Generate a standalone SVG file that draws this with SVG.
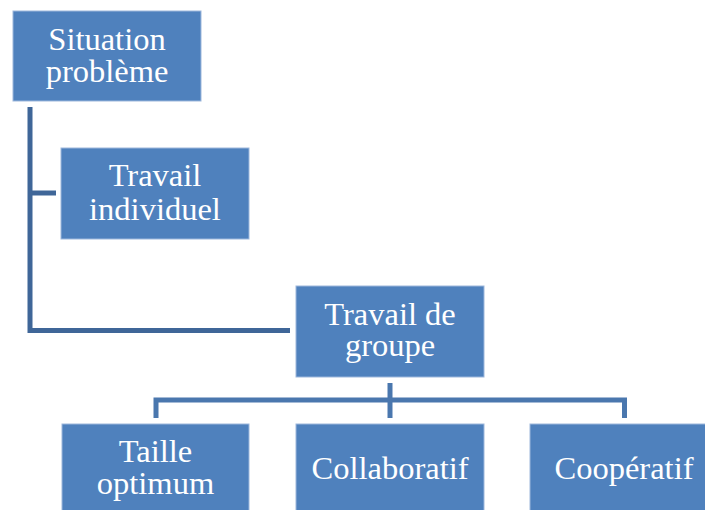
<svg xmlns="http://www.w3.org/2000/svg" width="705" height="510" viewBox="0 0 705 510">
  <style>
    .box { fill: #4F81BD; stroke: #9DB7DC; stroke-width: 1; }
    .lbl { fill: #FFFFFF; font-family: "Liberation Serif", "Times New Roman", serif; font-size: 32.5px; text-anchor: middle; }
    .wire { fill: none; stroke: #3F6698; stroke-width: 5; stroke-linejoin: miter; stroke-linecap: butt; }
    .wire2 { fill: none; stroke: #4A77AE; stroke-width: 5; stroke-linejoin: miter; stroke-linecap: butt; }
  </style>
  <rect width="705" height="510" fill="#FFFFFF"/>

  <g id="connectors">
    <path class="wire" d="M30,107 V330.5 H290"/>
    <path class="wire" d="M30,193 H56"/>
    <path class="wire2" d="M390,383 V400"/>
    <path class="wire2" d="M156,418 V400 H624.5 V418"/>
    <path class="wire2" d="M390,400 V418"/>
  </g>

  <g id="situation">
    <rect class="box" x="13" y="11" width="188" height="90"/>
    <text class="lbl" x="107" y="50">Situation</text>
    <text class="lbl" x="107" y="82">problème</text>
  </g>

  <g id="individuel">
    <rect class="box" x="61" y="148" width="188" height="91"/>
    <text class="lbl" x="155" y="186">Travail</text>
    <text class="lbl" x="155" y="220">individuel</text>
  </g>

  <g id="groupe">
    <rect class="box" x="296" y="286" width="188" height="91"/>
    <text class="lbl" x="390" y="325">Travail de</text>
    <text class="lbl" x="390" y="356">groupe</text>
  </g>

  <g id="taille">
    <rect class="box" x="62" y="424" width="187" height="90"/>
    <text class="lbl" x="155.5" y="462">Taille</text>
    <text class="lbl" x="155.5" y="494">optimum</text>
  </g>

  <g id="collaboratif">
    <rect class="box" x="296" y="424" width="188" height="90"/>
    <text class="lbl" x="390" y="479">Collaboratif</text>
  </g>

  <g id="cooperatif">
    <rect class="box" x="530" y="424" width="188" height="90"/>
    <text class="lbl" x="624" y="479">Coopératif</text>
  </g>
</svg>
